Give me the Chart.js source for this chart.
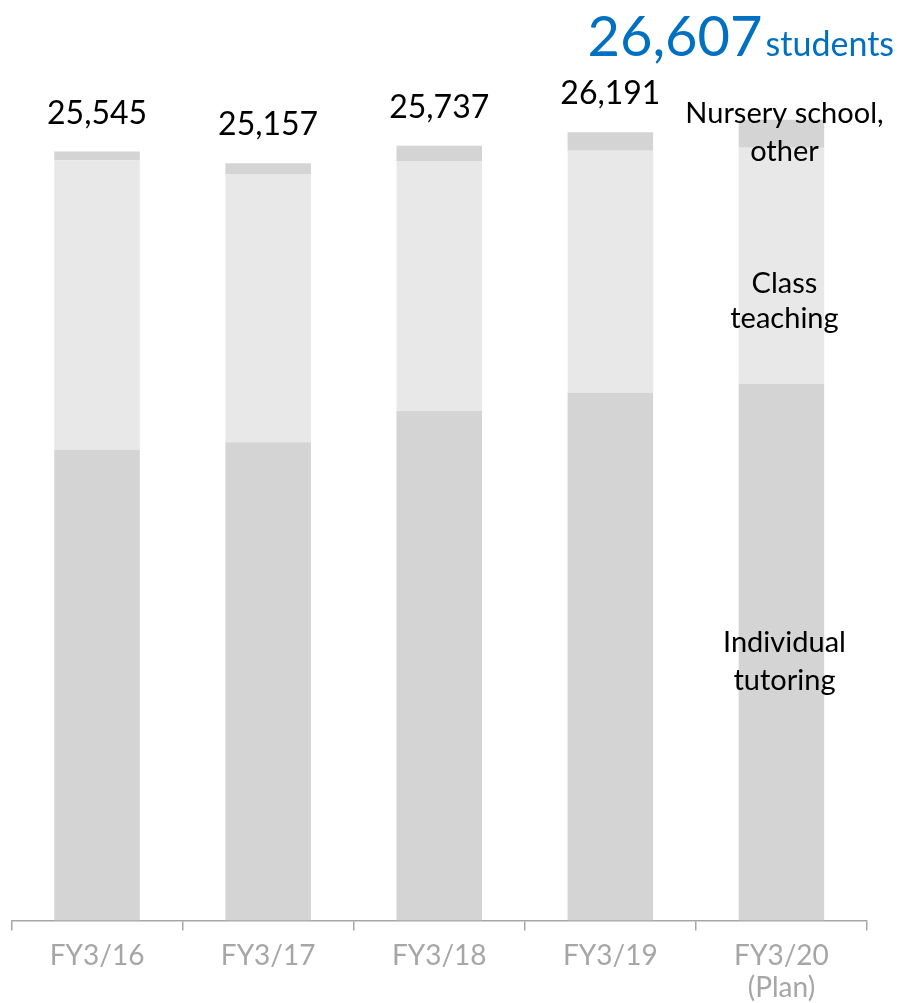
<!DOCTYPE html>
<html>
<head>
<meta charset="utf-8">
<script src="https://cdn.jsdelivr.net/npm/chart.js@4"></script>
<style>
  html, body { margin: 0; padding: 0; background: #fff; }
  #wrap { width: 899px; height: 1003px; position: relative; }
</style>
</head>
<body>
<div id="wrap"><canvas id="studentsChart"></canvas></div>
<script>
// Students by type of service
const categories = ['FY3/16', 'FY3/17', 'FY3/18', 'FY3/19', ['FY3/20', '(Plan)']];
const individualTutoring = [15630, 15890, 16930, 17530, 17830];
const classTeaching = [9630, 8910, 8290, 8040, 7840];
const nurseryOther = [285, 357, 517, 621, 937];
const seriesNames = [['Individual', 'tutoring'], ['Class', 'teaching'], ['Nursery school,', 'other']];

const FONT = 'Lato, "Noto Sans", sans-serif';

// Totals above the bars, last one highlighted in blue
const totalsPlugin = {
    id: 'totals',
    afterDatasetsDraw(chart) {
        const ctx = chart.ctx;
        const yScale = chart.scales.y;
        const last = chart.getDatasetMeta(2).data;
        ctx.save();
        last.forEach((bar, i) => {
            const total = individualTutoring[i] + classTeaching[i] + nurseryOther[i];
            const top = yScale.getPixelForValue(total);
            const txt = total.toLocaleString('en-US');
            if (i < last.length - 1) {
                ctx.fillStyle = '#000';
                ctx.font = '32px ' + FONT;
                ctx.textAlign = 'center';
                ctx.textBaseline = 'alphabetic';
                ctx.fillText(txt, bar.x, top - 28);
            } else {
                ctx.fillStyle = '#0070c0';
                ctx.textAlign = 'left';
                ctx.textBaseline = 'alphabetic';
                ctx.font = '56px ' + FONT;
                const x0 = bar.x - 194;
                ctx.fillText(txt, x0, top - 64);
                const w = ctx.measureText(txt).width;
                ctx.font = '34px ' + FONT;
                ctx.fillText('students', x0 + w + 3, top - 64);
            }
        });
        ctx.restore();
    }
};

// Series names written over the last bar
const seriesLabelPlugin = {
    id: 'seriesLabels',
    afterDatasetsDraw(chart) {
        const ctx = chart.ctx;
        const i = categories.length - 1;
        const offsets = [[0, 38], [27, 62], [-11, 27]];
        ctx.save();
        ctx.fillStyle = '#000';
        ctx.font = '29px ' + FONT;
        ctx.textAlign = 'center';
        ctx.textBaseline = 'alphabetic';
        for (let d = 0; d < 3; d++) {
            const bar = chart.getDatasetMeta(d).data[i];
            const mid = (bar.y + bar.base) / 2;
            seriesNames[d].forEach((line, k) => {
                ctx.fillText(line, bar.x + 3, mid + offsets[d][k]);
            });
        }
        ctx.restore();
    }
};

const ctx = document.getElementById('studentsChart').getContext('2d');
new Chart(ctx, {
    type: 'bar',
    data: {
        labels: categories,
        datasets: [
            { label: 'Individual tutoring', data: individualTutoring, backgroundColor: '#d4d4d4' },
            { label: 'Class teaching', data: classTeaching, backgroundColor: '#e8e8e8' },
            { label: 'Nursery school, other', data: nurseryOther, backgroundColor: '#d4d4d4' }
        ]
    },
    options: {
        responsive: true,
        maintainAspectRatio: false,
        animation: false,
        layout: { padding: { top: 17.5, left: 11.5, right: 32, bottom: 0 } },
        datasets: { bar: { barPercentage: 0.5, categoryPercentage: 1.0, borderWidth: 0 } },
        scales: {
            x: {
                stacked: true,
                grid: { display: true, drawOnChartArea: false, drawTicks: true, tickLength: 10, color: '#a6a6a6', lineWidth: 1.5 },
                border: { display: true, color: '#a6a6a6', width: 1.5 },
                ticks: {
                    color: '#a6a6a6',
                    font: { family: FONT, size: 28, lineHeight: 1.15 },
                    padding: 9,
                    maxRotation: 0
                },
                afterFit(scale) { scale.height = 82.5; }
            },
            y: {
                stacked: true,
                display: false,
                min: 0,
                max: 30000
            }
        },
        plugins: {
            legend: { display: false },
            tooltip: { enabled: false }
        }
    },
    plugins: [totalsPlugin, seriesLabelPlugin]
});
</script>
</body>
</html>
